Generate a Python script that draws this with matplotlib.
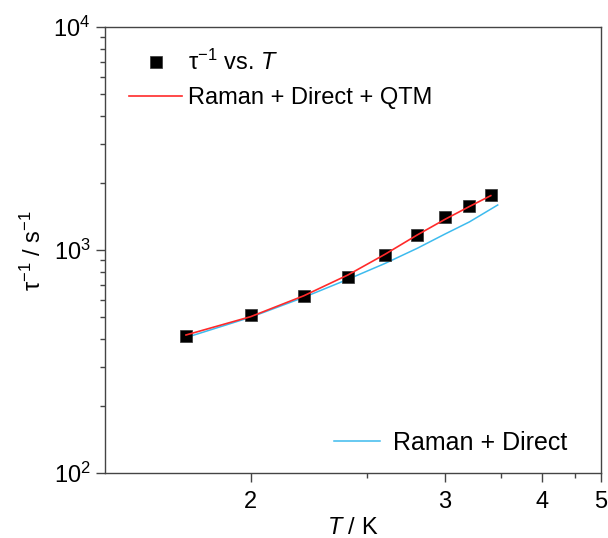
import numpy as np
import matplotlib
matplotlib.use("Agg")
import matplotlib.pyplot as plt
from matplotlib.ticker import FixedLocator, NullFormatter, LogLocator

plt.rcParams["font.family"] = ["Liberation Sans", "DejaVu Sans"]
plt.rcParams["mathtext.fontset"] = "custom"
plt.rcParams["mathtext.rm"] = "Liberation Sans"
plt.rcParams["mathtext.it"] = "Liberation Sans:italic"
plt.rcParams["mathtext.default"] = "regular"

# measured relaxation rates
T_data = [1.8, 2.0, 2.2, 2.4, 2.6, 2.8, 3.0, 3.2, 3.4]
rate_data = [414, 511, 624, 759, 955, 1167, 1409, 1574, 1775]

# fit: Raman + Direct + QTM
T_fit1 = [1.8, 2.0, 2.2, 2.4, 2.6, 2.8, 3.0, 3.2, 3.4]
rate_fit1 = [417, 504, 625, 775, 961, 1172, 1377, 1571, 1758]

# fit: Raman + Direct
T_fit2 = [1.8, 2.0, 2.2, 2.4, 2.6, 2.8, 3.0, 3.2, 3.47]
rate_fit2 = [406, 501, 615, 741, 874, 1021, 1183, 1340, 1596]

x_ticks = [2, 3, 4, 5]
x_minor = [2.5, 3.5, 4.5]


def fwd(t):
    with np.errstate(divide="ignore"):
        return -1.0 / np.asarray(t, dtype=float)


def inv(u):
    with np.errstate(divide="ignore"):
        return -1.0 / np.asarray(u, dtype=float)


fig = plt.figure(figsize=(6.08, 5.38), dpi=100)
ax = fig.add_axes([0.1727, 0.1203, 0.815, 0.829])

ax.set_xscale("function", functions=(fwd, inv))
ax.set_yscale("log")

sq, = ax.plot(T_data, rate_data, "s", color="black", markersize=9,
              markeredgecolor="#333333", markeredgewidth=0.5, zorder=3,
              label=r"τ$^{-1}$ vs. $\mathit{T}$")
red, = ax.plot(T_fit1, rate_fit1, color="#FF2A2A", lw=1.2, zorder=4,
               label="Raman + Direct + QTM")
blue, = ax.plot(T_fit2, rate_fit2, color="#3DBBEE", lw=1.1, zorder=2,
                label="Raman + Direct")

ax.set_xlim(1.6, 5)
ax.set_ylim(1e2, 1e4)
ax.xaxis.set_major_locator(FixedLocator(x_ticks))
ax.xaxis.set_minor_locator(FixedLocator(x_minor))
ax.xaxis.set_minor_formatter(NullFormatter())
ax.set_xticklabels([str(v) for v in x_ticks])
ax.yaxis.set_major_locator(LogLocator(base=10))
ax.yaxis.set_minor_locator(LogLocator(base=10, subs=np.arange(2, 10)))
ax.yaxis.set_minor_formatter(NullFormatter())

for s in ax.spines.values():
    s.set_color("#444444")
    s.set_linewidth(1.0)
ax.tick_params(which="both", direction="out", top=False, right=False,
               color="#444444", labelsize=17)
ax.tick_params(which="major", length=6.5, width=1.0)
ax.tick_params(which="minor", length=3.6, width=1.0)
ax.tick_params(axis="x", pad=6)
ax.tick_params(axis="y", pad=4)

ax.set_xlabel(r"$\mathit{T}$ / K", fontsize=17, labelpad=3)
ax.set_ylabel(r"τ$^{-1}$ / s$^{-1}$", fontsize=17, labelpad=5)

leg1 = fig.legend(handles=[sq, red], loc="upper left",
                  bbox_to_anchor=(0.2122, 0.907), frameon=False,
                  fontsize=17, handlelength=2.25, handletextpad=0.25,
                  borderpad=0, borderaxespad=0, labelspacing=0.5)
leg2 = fig.legend(handles=[blue], loc="upper left",
                  bbox_to_anchor=(0.549, 0.199), frameon=False,
                  fontsize=18, handlelength=1.85, handletextpad=0.5,
                  borderpad=0, borderaxespad=0)

fig.savefig("out.png", dpi=100)
